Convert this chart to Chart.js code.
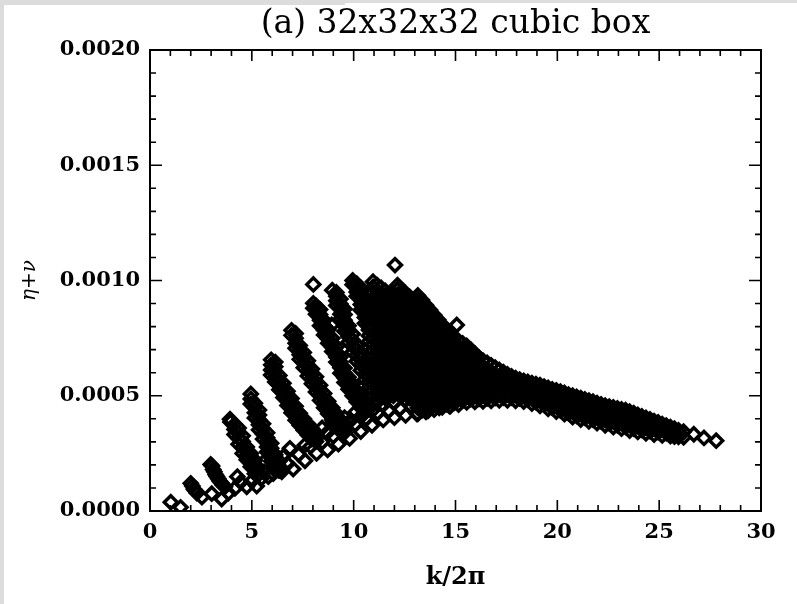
<!DOCTYPE html>
<html>
<head>
<meta charset="utf-8">
<script src="https://cdn.jsdelivr.net/npm/chart.js@4.4.1/dist/chart.umd.min.js"></script>
<style>
  html, body { margin: 0; padding: 0; background: #fff; }
  #wrap { width: 797px; height: 604px; }
</style>
</head>
<body>
<div id="wrap"><canvas id="plot" width="797" height="604"></canvas></div>
<script>
// Values. k/2pi on x, eta+nu in units of 1e-4 on y.

// Single points: small fans at low k, the sparse corner and isolated tips
const lowPoints = [
  [1.02,0.38],[1.50,0.16],
  [2.00,1.20],[2.08,1.08],[2.15,0.95],[2.22,0.88],[2.30,0.78],[2.55,0.60],
  [2.98,2.02],[3.05,1.95],[3.10,1.80],[3.16,1.70],[3.22,1.58],[3.28,1.50],[3.35,1.40],[3.42,1.30],[3.50,1.22],[3.58,1.12],[3.68,1.05],
  [3.03,0.75],[3.52,0.52],[3.85,0.78],
  [3.93,3.98],
  [4.17,0.98],[4.29,1.49],[4.45,1.25],[4.75,1.05],[5.00,1.30],[5.24,1.08],[5.45,1.40],[5.81,1.49],[6.05,1.62],[6.30,1.78],
  [5.35,1.85],[5.60,1.70],[5.55,2.10],
  [6.54,2.36],[6.87,2.72],[6.25,2.05],
  [8.02,9.83],[8.92,8.07],[12.03,10.67],[15.06,8.07]
];

// Rows of open diamonds along the lower edge of the fans
const lowerRows = [
  [6.47,1.70],[7.03,1.82],[7.61,2.18],[8.18,2.50],[8.72,2.65],[9.25,2.90],[9.80,3.15],[10.35,3.45],[10.90,3.72],[11.45,3.95],[12.00,4.05],[12.55,4.15],[13.10,4.22],[13.65,4.35],[14.20,4.48],[14.70,4.55],
  [6.75,2.05],[7.30,2.45],[7.88,2.80],[8.45,3.00],[9.00,3.25],[9.52,3.50],[10.08,3.75],[10.62,4.00],[11.18,4.25],[11.72,4.35],[12.28,4.45],[12.82,4.55],[13.38,4.60],[13.92,4.70],
  [7.60,2.85],[8.15,3.20],[8.70,3.40],[9.25,3.62],[9.80,3.88],[10.35,4.10],[10.90,4.35],[11.45,4.60],[12.00,4.70],[12.55,4.82],[13.10,4.90],
  [8.45,3.60],[9.00,3.85],[9.55,4.05],[10.10,4.30],[10.62,4.50],[11.18,4.75],[11.72,4.95],[12.28,5.05]
];

// The fans between k ~ 4 and k ~ 10.5, one entry per k column: [k, values...]
const fanColumns = [
  [3.95, 3.86],
  [4.15, 3.32,3.54,3.76],
  [4.35, 2.90,3.14,3.38,3.60],
  [4.55, 2.50,2.76,3.02,3.26],
  [4.75, 2.22,2.40,2.56,2.78],
  [4.95, 1.92,2.10,2.28,2.50, 4.64,4.86,5.08],
  [5.15, 1.62,1.80,1.98,2.20, 4.04,4.26,4.48,4.68],
  [5.35, 1.60, 3.52,3.74,3.96,4.16,4.38],
  [5.55, 3.12,3.34,3.56,3.78],
  [5.75, 2.56,2.78,3.00,3.18,3.40],
  [5.95, 2.16,2.36,2.56,2.72,2.94, 5.90,6.12,6.34,6.56],
  [6.15, 1.92,2.08,2.22,2.44, 5.60,5.82,6.04,6.26,6.46],
  [6.35, 1.76,1.94,2.16, 5.26,5.46,5.66,5.88],
  [6.55, 4.92,5.12,5.32,5.54],
  [6.75, 4.58,4.78,4.98,5.20],
  [6.95, 4.26,4.46,4.66,4.88, 7.62,7.84],
  [7.15, 3.94,4.14,4.32,4.54, 7.06,7.28,7.50,7.70],
  [7.35, 3.72,3.88,4.02,4.24, 6.58,6.78,6.98,7.18],
  [7.55, 3.50,3.64,3.78,4.00, 6.22,6.44,6.66,6.88],
  [7.75, 3.30,3.44,3.56,3.78, 5.86,6.08,6.30,6.52],
  [7.95, 3.12,3.24,3.36,3.58, 5.52,5.74,5.94,6.16],
  [8.02, 8.80,9.01],
  [8.15, 3.02,3.16,3.38, 5.16,5.38,5.60,5.82, 8.54,8.72,8.90],
  [8.35, 4.80,5.02,5.24,5.46, 8.04,8.28,8.52,8.74],
  [8.55, 4.48,4.68,4.88,5.10, 7.64,7.84,8.04,8.26],
  [8.75, 4.22,4.38,4.54,4.76, 7.28,7.46,7.64,7.86],
  [8.95, 3.96,4.12,4.26,4.48, 6.92,7.10,7.28,7.50, 9.58],
  [9.15, 3.70,3.86,4.00,4.22, 6.46,6.68,6.90,7.12, 8.92,9.12,9.32,9.48],
  [9.35, 3.46,3.60,3.74,3.96, 5.98,6.22,6.46,6.68, 8.32,8.54,8.76,8.98,9.20],
  [9.55, 3.40,3.52,3.74, 5.58,5.78,5.98,6.20, 7.80,8.04,8.28,8.52,8.76],
  [9.75, 5.28,5.44,5.58,5.80, 7.32,7.56,7.80,8.04],
  [9.95, 5.00,5.14,5.28,5.50, 6.90,7.16,7.42,7.68, 9.82,10.00],
  [10.15, 4.74,4.88,5.00,5.22, 6.50,6.74,6.98,7.20, 9.32,9.50,9.68,9.86],
  [10.35, 4.48,4.62,4.74,4.96, 6.10,6.34,6.58,6.80, 8.72,8.96,9.20,9.44,9.68],
  [10.55, 4.26,4.38,4.48,4.70, 5.70,5.94,6.18,6.40, 8.14,8.40,8.66,8.92,9.16]
];

// The dense region around the peak (k ~ 10.7 to 15)
const peakColumns = [
  [10.75, 4.60,4.85,5.10,5.35,5.60,5.85,6.10,6.35,6.60,6.85,7.10,7.35,7.60,7.85,8.10,8.35,8.60,8.85,9.10,9.38],
  [10.95, 4.72,4.97,5.22,5.47,5.72,5.97,6.22,6.47,6.72,6.97,7.22,7.47,7.72,7.97,8.22,8.47,8.72,8.97,9.22,9.47,9.72,9.95],
  [11.15, 4.80,5.05,5.30,5.55,5.80,6.05,6.30,6.55,6.80,7.05,7.30,7.55,7.80,8.05,8.30,8.55,8.80,9.05,9.30,9.55,9.80],
  [11.35, 4.92,5.17,5.42,5.67,5.92,6.17,6.42,6.67,6.92,7.17,7.42,7.67,7.92,8.17,8.42,8.67,8.92,9.17,9.42,9.68],
  [11.55, 4.90,5.15,5.40,5.65,5.90,6.15,6.40,6.65,6.90,7.15,7.40,7.65,7.90,8.15,8.40,8.65,8.90,9.15,9.35,9.55],
  [11.75, 5.02,5.27,5.52,5.77,6.02,6.27,6.52,6.77,7.02,7.27,7.52,7.77,8.02,8.27,8.52,8.77,9.02,9.22,9.42],
  [11.95, 5.00,5.25,5.50,5.75,6.00,6.25,6.50,6.75,7.00,7.25,7.50,7.75,8.00,8.25,8.50,8.75,9.00,9.30],
  [12.15, 5.12,5.37,5.62,5.87,6.12,6.37,6.62,6.87,7.12,7.37,7.62,7.87,8.12,8.37,8.62,8.87,9.12,9.37,9.60,9.80],
  [12.35, 5.00,5.25,5.50,5.75,6.00,6.25,6.50,6.75,7.00,7.25,7.50,7.75,8.00,8.25,8.50,8.75,9.00,9.25,9.50],
  [12.55, 5.07,5.32,5.57,5.82,6.07,6.32,6.57,6.82,7.07,7.32,7.57,7.82,8.07,8.32,8.57,8.82,9.07,9.30,9.45],
  [12.75, 4.90,5.15,5.40,5.65,5.90,6.15,6.40,6.65,6.90,7.15,7.40,7.65,7.90,8.15,8.40,8.65,8.90,9.10,9.29],
  [12.95, 4.80,5.05,5.30,5.55,5.80,6.05,6.30,6.55,6.80,7.05,7.30,7.55,7.80,8.05,8.30,8.55,8.80,9.10],
  [13.15, 4.22,4.47,4.72,4.97,5.22,5.47,5.72,5.97,6.22,6.47,6.72,6.97,7.22,7.47,7.72,7.97,8.22,8.47,8.72,8.97,9.17,9.35],
  [13.35, 4.37,4.62,4.87,5.12,5.37,5.62,5.87,6.12,6.37,6.62,6.87,7.12,7.37,7.62,7.87,8.12,8.37,8.62,8.87,9.15],
  [13.55, 4.30,4.55,4.80,5.05,5.30,5.55,5.80,6.05,6.30,6.55,6.80,7.05,7.30,7.55,7.80,8.05,8.30,8.55,8.75,8.93],
  [13.75, 4.47,4.72,4.97,5.22,5.47,5.72,5.97,6.22,6.47,6.72,6.97,7.22,7.47,7.72,7.97,8.22,8.47,8.72],
  [13.95, 4.40,4.65,4.90,5.15,5.40,5.65,5.90,6.15,6.40,6.65,6.90,7.15,7.40,7.65,7.90,8.15,8.35,8.50],
  [14.15, 4.57,4.82,5.07,5.32,5.57,5.82,6.07,6.32,6.57,6.82,7.07,7.32,7.57,7.82,8.07,8.30],
  [14.35, 4.50,4.75,5.00,5.25,5.50,5.75,6.00,6.25,6.50,6.75,7.00,7.25,7.50,7.75,7.92,8.08],
  [14.55, 4.64,4.89,5.14,5.39,5.64,5.89,6.14,6.39,6.64,6.89,7.14,7.39,7.64,7.87],
  [14.75, 4.55,4.80,5.05,5.30,5.55,5.80,6.05,6.30,6.55,6.80,7.05,7.30,7.50,7.68],
  [14.95, 4.70,4.95,5.20,5.45,5.70,5.95,6.20,6.45,6.70,6.95,7.20,7.50]
];

// The falling tail (k > 15)
const tailColumns = [
  [15.15, 4.62,4.87,5.12,5.37,5.62,5.87,6.12,6.37,6.62,6.87,7.12,7.38],
  [15.35, 4.79,5.04,5.29,5.54,5.79,6.04,6.29,6.54,6.79,7.04,7.27],
  [15.55, 4.71,4.96,5.21,5.46,5.71,5.96,6.21,6.46,6.71,6.96,7.16],
  [15.75, 4.85,5.10,5.35,5.60,5.85,6.10,6.35,6.60,6.80,7.00],
  [15.95, 4.74,4.99,5.24,5.49,5.74,5.99,6.24,6.49,6.66,6.83],
  [16.15, 4.87,5.12,5.37,5.62,5.87,6.12,6.40,6.65],
  [16.35, 4.76,5.01,5.26,5.51,5.76,6.01,6.26,6.52],
  [16.55, 4.89,5.14,5.39,5.64,5.89,6.14,6.43],
  [16.75, 4.78,5.03,5.28,5.53,5.78,6.03,6.32],
  [16.95, 4.91,5.16,5.41,5.66,5.91,6.22],
  [17.15, 4.80,5.05,5.30,5.55,5.80,6.12],
  [17.35, 4.92,5.17,5.42,5.67,5.85,6.02],
  [17.55, 4.80,5.05,5.30,5.55,5.75,5.93],
  [17.75, 4.92,5.17,5.42,5.67,5.84],
  [17.95, 4.78,5.03,5.28,5.53,5.76],
  [18.15, 4.89,5.14,5.39,5.70],
  [18.35, 4.75,5.00,5.25,5.45,5.64],
  [18.55, 4.83,5.08,5.33,5.60],
  [18.75, 4.66,4.91,5.16,5.36,5.55],
  [18.95, 4.73,4.98,5.23,5.50],
  [19.15, 4.56,4.81,5.06,5.28,5.46],
  [19.35, 4.62,4.87,5.12,5.40],
  [19.55, 4.43,4.68,4.93,5.15,5.34],
  [19.75, 4.49,4.74,4.99,5.28],
  [19.95, 4.31,4.56,4.81,5.03,5.23],
  [20.15, 4.37,4.62,4.87,5.18],
  [20.35, 4.20,4.45,4.70,4.92,5.12],
  [20.55, 4.25,4.50,4.75,5.05],
  [20.75, 4.07,4.32,4.57,4.80,5.00],
  [20.95, 4.13,4.38,4.63,4.95],
  [21.15, 3.97,4.22,4.47,4.70,4.90],
  [21.35, 4.05,4.30,4.55,4.84],
  [21.55, 3.89,4.14,4.39,4.60,4.79],
  [21.75, 3.97,4.22,4.47,4.74],
  [21.95, 3.81,4.06,4.31,4.50,4.68],
  [22.15, 3.89,4.14,4.39,4.62],
  [22.35, 3.72,3.97,4.22,4.40,4.57],
  [22.55, 3.80,4.05,4.30,4.53],
  [22.75, 3.64,3.89,4.14,4.32,4.49],
  [22.95, 3.72,3.97,4.22,4.45],
  [23.15, 3.57,3.82,4.07,4.25,4.41],
  [23.35, 3.65,3.90,4.15,4.37],
  [23.55, 3.49,3.74,3.99,4.16,4.31],
  [23.75, 3.58,3.83,4.05,4.24],
  [23.95, 3.43,3.68,3.93,4.17],
  [24.15, 3.52,3.77,3.95,4.10],
  [24.35, 3.37,3.62,3.85,4.04],
  [24.55, 3.47,3.72,3.97],
  [24.75, 3.32,3.57,3.75,3.90],
  [24.95, 3.42,3.64,3.84],
  [25.15, 3.28,3.53,3.77],
  [25.35, 3.38,3.55,3.70],
  [25.55, 3.25,3.45,3.64],
  [25.75, 3.23,3.40,3.57],
  [25.95, 3.22,3.50]
];

// Last separate diamonds at the high-k end
const tailEnd = [[26.2,3.20],[26.2,3.44],[26.7,3.33],[27.2,3.17],[27.8,3.05]];

const xTicks = [0, 5, 10, 15, 20, 25, 30];
const xTickLabels = ['0', '5', '10', '15', '20', '25', '30'];
const yTicks = [0, 0.0005, 0.0010, 0.0015, 0.0020];
const yTickLabels = ['0.0000', '0.0005', '0.0010', '0.0015', '0.0020'];

// Build scatter points (stored values are in 1e-4 units)
const points = [];
function addPairs(list) {
  list.forEach(p => points.push({ x: p[0], y: p[1] * 1e-4 }));
}
function addColumns(list) {
  list.forEach(col => {
    col.slice(1).forEach(v => points.push({ x: col[0], y: v * 1e-4 }));
  });
}
addPairs(lowPoints);
addPairs(lowerRows);
addColumns(fanColumns);
addColumns(peakColumns);
addColumns(tailColumns);
addPairs(tailEnd);

// Light grey strips along the top and left edge, like the scan
const pageEdge = {
  id: 'pageEdge',
  beforeDraw(chart) {
    const ctx = chart.ctx;
    ctx.save();
    ctx.fillStyle = '#fff';
    ctx.fillRect(0, 0, 797, 604);
    ctx.fillStyle = '#dcdcdc';
    ctx.fillRect(0, 0, 345, 5);
    ctx.fillRect(345, 0, 452, 3);
    ctx.fillRect(0, 0, 4, 604);
    ctx.restore();
  }
};

// Box frame with inward ticks on all four sides
const frameTicks = {
  id: 'frameTicks',
  afterDraw(chart) {
    const { ctx, chartArea: a } = chart;
    const xs = chart.scales.x, ys = chart.scales.y;
    ctx.save();
    ctx.strokeStyle = '#000';
    ctx.lineWidth = 1.6;
    ctx.beginPath();
    for (let v = 0; v <= 30; v++) {
      const px = xs.getPixelForValue(v);
      const len = v % 5 === 0 ? 11 : 6;
      ctx.moveTo(px, a.bottom); ctx.lineTo(px, a.bottom - len);
      ctx.moveTo(px, a.top); ctx.lineTo(px, a.top + len);
    }
    for (let i = 0; i <= 20; i++) {
      const py = ys.getPixelForValue(i * 0.0001);
      const len = i % 5 === 0 ? 12 : 6;
      ctx.moveTo(a.left, py); ctx.lineTo(a.left + len, py);
      ctx.moveTo(a.right, py); ctx.lineTo(a.right - len, py);
    }
    ctx.stroke();
    ctx.lineWidth = 2;
    ctx.strokeRect(a.left, a.top, a.right - a.left, a.bottom - a.top);
    ctx.restore();
  }
};

Chart.defaults.color = '#000';

const chart = new Chart(document.getElementById('plot'), {
  type: 'scatter',
  data: {
    datasets: [{
      label: 'eta+nu',
      data: points,
      pointStyle: 'rectRot',
      pointRadius: 6.5,
      pointBorderWidth: 3.4,
      borderColor: '#000',
      backgroundColor: 'rgba(0,0,0,0)',
      showLine: false
    }]
  },
  options: {
    responsive: false,
    devicePixelRatio: 1,
    animation: false,
    events: [],
    layout: { padding: { left: 0, right: 36, top: 0, bottom: 0 } },
    plugins: {
      legend: { display: false },
      tooltip: { enabled: false },
      title: {
        display: true,
        fullSize: false,
        text: '(a) 32x32x32 cubic box',
        color: '#000',
        font: { family: 'DejaVu Serif', size: 33, weight: 'normal', lineHeight: 1.2 },
        padding: { top: 5, bottom: 5.4 }
      }
    },
    scales: {
      x: {
        type: 'linear',
        min: 0,
        max: 30,
        grid: { display: false, drawTicks: false },
        border: { display: false },
        afterBuildTicks: s => { s.ticks = xTicks.map(v => ({ value: v })); },
        afterFit: s => { s.height = 93; },
        ticks: {
          autoSkip: false,
          maxRotation: 0,
          padding: 9,
          font: { family: 'DejaVu Serif', size: 21, weight: 'bold' },
          callback: (v, i) => xTickLabels[i]
        },
        title: {
          display: true,
          text: 'k/2π',
          font: { family: 'DejaVu Serif', size: 24, weight: 'bold' },
          padding: { top: 0, bottom: 12 }
        }
      },
      y: {
        type: 'linear',
        min: 0,
        max: 0.002,
        grid: { display: false, drawTicks: false },
        border: { display: false },
        afterBuildTicks: s => { s.ticks = yTicks.map(v => ({ value: v })); },
        afterFit: s => { s.width = 150; },
        ticks: {
          autoSkip: false,
          padding: 10,
          font: { family: 'DejaVu Serif', size: 21, weight: 'bold' },
          callback: (v, i) => yTickLabels[i]
        },
        title: {
          display: true,
          text: 'η+ν',
          font: { family: 'DejaVu Serif', size: 20, style: 'italic' },
          padding: { top: 18, bottom: 0 }
        }
      }
    }
  },
  plugins: [pageEdge, frameTicks]
});
</script>
</body>
</html>
